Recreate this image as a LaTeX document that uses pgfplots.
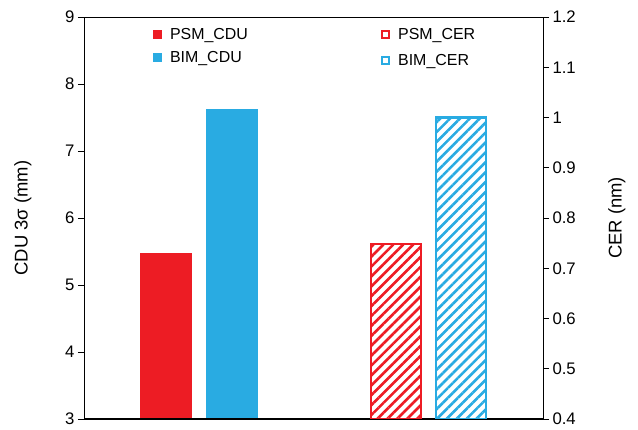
\documentclass[border=0pt]{standalone}
\usepackage{fontspec}
\setmainfont{Liberation Sans}
\usepackage{pgfplots}
\pgfplotsset{compat=1.18}
\usetikzlibrary{patterns.meta}
\definecolor{barred}{HTML}{ED1C24}
\definecolor{barblue}{HTML}{29ABE2}

\pgfplotsset{
  common/.style={
    scale only axis, width=459bp, height=402bp,
    at={(0,0)}, anchor=south west,
    xmin=0, xmax=459, xtick=\empty,
    tick align=outside, major tick length=6bp,
    tick style={black, line width=0.6pt},
    axis line style={line width=0.6pt},
    /pgf/number format/assume math mode=true,
    tick label style={font=\fontsize{16.8}{19}\selectfont},
    label style={font=\fontsize{18.5}{21}\selectfont},
    legend style={draw=none, fill=none, font=\fontsize{16}{18}\selectfont,
      anchor=north west, row sep=6bp, inner sep=0pt,
      /tikz/every odd column/.append style={column sep=6bp}},
    legend cell align=left,
  },
  solidbar/.style={ybar, bar width=52, bar shift=0pt, fill=#1, draw=none},
  hatchbar/.style={ybar, bar width=50, bar shift=0pt, draw=#1, line width=2.4bp,
    pattern={Lines[angle=45, distance=7bp, line width=2.6bp]}, pattern color=#1},
}

\begin{document}
\begin{tikzpicture}
\useasboundingbox (-84bp,-11bp) rectangle (554bp,419bp);

% CDU on the left axis
\begin{axis}[common,
  ymin=3, ymax=9, ytick={3,4,...,9},
  ytick pos=left,
  ylabel={CDU 3σ (mm)},
  ylabel style={at={(axis description cs:-0.133,0.5)}, anchor=center},
  legend style={at={(axis description cs:0.150,0.977)}},
]
\addplot[solidbar=barred,
  legend image code/.code={\fill[barred] (0bp,-4.5bp) rectangle (9bp,4.5bp);}]
  coordinates {(82,5.48)};
\addlegendentry{PSM\_CDU}
\addplot[solidbar=barblue,
  legend image code/.code={\fill[barblue] (0bp,-4.5bp) rectangle (9bp,4.5bp);}]
  coordinates {(148,7.62)};
\addlegendentry{BIM\_CDU}
\draw[line width=1.6pt] (rel axis cs:0,0) -- (rel axis cs:1,0);
\end{axis}

% CER on the right axis
\begin{axis}[common,
  ymin=0.4, ymax=1.2, ytick={0.4,0.5,...,1.2},
  axis x line=none, axis y line*=right,
  ylabel={CER (nm)},
  ylabel style={at={(axis description cs:1.161,0.5)}, anchor=center},
  legend style={at={(axis description cs:0.647,0.977)}, row sep=9bp},
  yticklabel style={/pgf/number format/fixed},
]
\addplot[hatchbar=barred,
  legend image code/.code={\draw[barred, line width=2bp, fill=white] (1bp,-3.5bp) rectangle (8bp,3.5bp);}]
  coordinates {(312,0.748)};
\addlegendentry{PSM\_CER}
\addplot[hatchbar=barblue,
  legend image code/.code={\draw[barblue, line width=2bp, fill=white] (1bp,-3.5bp) rectangle (8bp,3.5bp);}]
  coordinates {(377,1.0)};
\addlegendentry{BIM\_CER}
\end{axis}
\end{tikzpicture}
\end{document}
